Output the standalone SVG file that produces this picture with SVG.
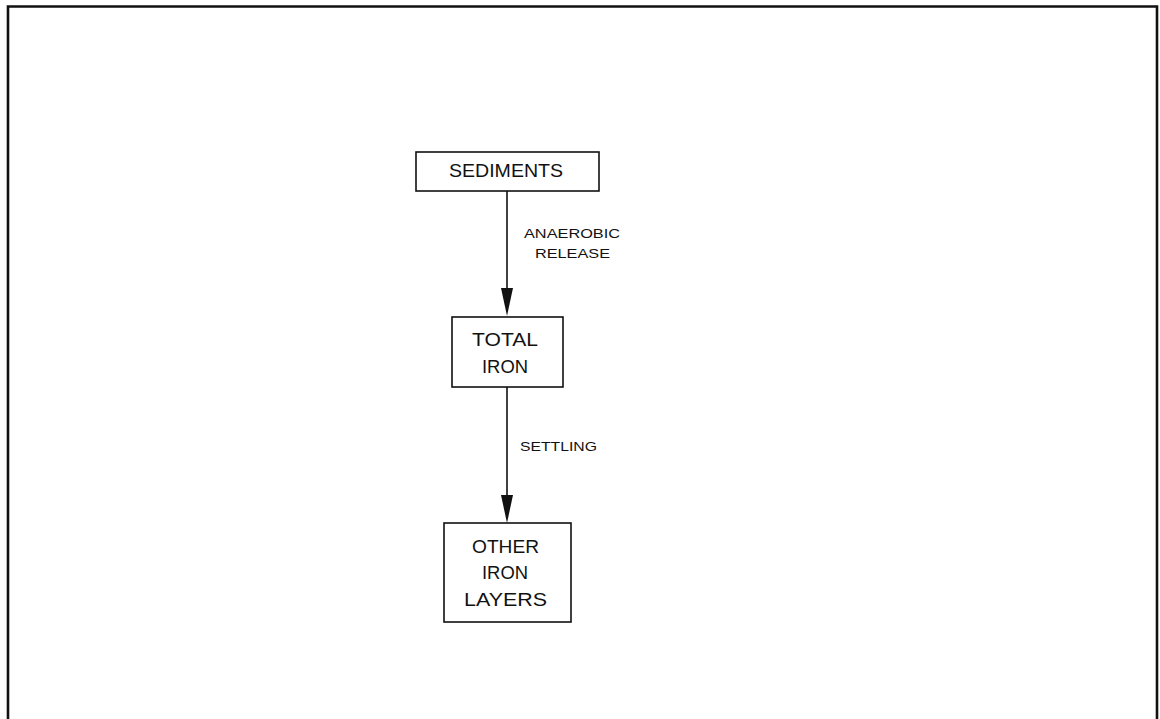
<svg xmlns="http://www.w3.org/2000/svg" width="1160" height="719" viewBox="0 0 1160 719">
  <style>
    .box { fill: #ffffff; stroke: #111111; stroke-width: 1.6; }
    .lbl { font-family: "Liberation Sans", Arial, sans-serif; font-size: 18px; fill: #111111; text-anchor: middle; }
    .edge { font-family: "Liberation Sans", Arial, sans-serif; font-size: 13px; fill: #111111; }
    .wire { stroke: #111111; stroke-width: 1.6; fill: none; }
  </style>
  <defs>
    <marker id="head" markerUnits="userSpaceOnUse" markerWidth="14" markerHeight="30" refX="7" refY="28" orient="auto-start-reverse" viewBox="0 0 14 30">
      <path d="M1,0 L13,0 L7,28 Z" fill="#111111" transform="rotate(0)"/>
    </marker>
  </defs>
  <rect x="0" y="0" width="1160" height="719" fill="#ffffff"/>
  <!-- page frame -->
  <path d="M8,725 L8,6.5 L1157,6.5 L1157,725" fill="none" stroke="#111111" stroke-width="2.6"/>

  <g id="connectors">
    <line class="wire" x1="507" y1="191" x2="507" y2="290"/>
    <path d="M501,288 L513,288 L507,316 Z" fill="#111111"/>
    <line class="wire" x1="507" y1="387" x2="507" y2="497"/>
    <path d="M501,495 L513,495 L507,523 Z" fill="#111111"/>
    <text class="edge" x="524" y="238" textLength="96" lengthAdjust="spacingAndGlyphs">ANAEROBIC</text>
    <text class="edge" x="535" y="258" textLength="75" lengthAdjust="spacingAndGlyphs">RELEASE</text>
    <text class="edge" x="520" y="451" textLength="77" lengthAdjust="spacingAndGlyphs">SETTLING</text>
  </g>

  <g id="sediments">
    <rect class="box" x="416" y="152" width="183" height="39"/>
    <text class="lbl" x="506" y="177" textLength="114" lengthAdjust="spacingAndGlyphs">SEDIMENTS</text>
  </g>

  <g id="total-iron">
    <rect class="box" x="452" y="317" width="111" height="70"/>
    <text class="lbl" x="505" y="346" font-size="19" textLength="66" lengthAdjust="spacingAndGlyphs">TOTAL</text>
    <text class="lbl" x="505" y="373" font-size="19" textLength="46" lengthAdjust="spacingAndGlyphs">IRON</text>
  </g>

  <g id="other-iron-layers">
    <rect class="box" x="444" y="523" width="127" height="99"/>
    <text class="lbl" x="505.5" y="553" font-size="19" textLength="67" lengthAdjust="spacingAndGlyphs">OTHER</text>
    <text class="lbl" x="505" y="579" font-size="19" textLength="46" lengthAdjust="spacingAndGlyphs">IRON</text>
    <text class="lbl" x="505.5" y="606" font-size="19" textLength="83" lengthAdjust="spacingAndGlyphs">LAYERS</text>
  </g>
</svg>
